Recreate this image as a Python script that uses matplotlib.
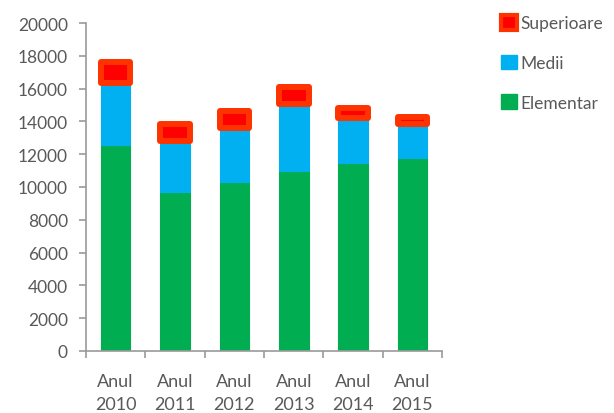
import numpy as np
import matplotlib
matplotlib.use('Agg')
import matplotlib.pyplot as plt
from matplotlib.patches import Patch

# data
years = ['Anul\n2010', 'Anul\n2011', 'Anul\n2012', 'Anul\n2013', 'Anul\n2014', 'Anul\n2015']
elementar = [12560, 9700, 10300, 10980, 11450, 11750]
medii = [3780, 3100, 3300, 4080, 2750, 2090]
superioare = [1280, 1040, 1030, 1040, 620, 430]

plt.rcParams['font.family'] = ['Lato', 'DejaVu Sans']
grey = '#595959'
axcol = '#9a9a9a'

fig = plt.figure(figsize=(6.14, 4.14), dpi=100)
ax = fig.add_axes([0.140, 0.150, 0.580, 0.792])

x = np.arange(len(years))
w = 0.5
b1 = ax.bar(x, elementar, w, color='#00AD50', edgecolor='#00AD50', linewidth=0.8)
b2 = ax.bar(x, medii, w, bottom=elementar, color='#00B0F0', edgecolor='#00B0F0',
            linewidth=0.8)
bot = np.array(elementar) + np.array(medii)
b3 = ax.bar(x, superioare, w, bottom=bot, color='#FF0000', edgecolor='#FF3300',
            linewidth=4.3)
for r in b3:
    r.set_joinstyle('round')

ax.set_xlim(-0.5, 5.5)
ax.set_ylim(0, 20000)
ax.set_yticks(range(0, 20001, 2000))
ax.set_xticks(x)
ax.set_xticklabels(years, linespacing=1.5)
ax.set_xticks(np.arange(-0.5, 6.0, 1.0), minor=True)
ax.tick_params(axis='x', which='major', length=0, pad=16, labelsize=13, colors=grey)
ax.tick_params(axis='x', which='minor', length=5, width=1.2, color=axcol, direction='out')
ax.tick_params(axis='y', length=5, width=1.2, color=axcol, labelsize=12.5,
               labelcolor=grey, pad=8)

for s in ['top', 'right']:
    ax.spines[s].set_visible(False)
for s in ['left', 'bottom']:
    ax.spines[s].set_color(axcol)
    ax.spines[s].set_linewidth(1.2)

handles = [Patch(facecolor='#FF0000', edgecolor='#FF3300', linewidth=3, joinstyle='round'),
           Patch(facecolor='#00B0F0', edgecolor='#00B0F0'),
           Patch(facecolor='#00AD50', edgecolor='#00AD50')]
fig.legend(handles, ['Superioare', 'Medii', 'Elementar'], loc='upper left',
           bbox_to_anchor=(0.79, 1.0), frameon=False, fontsize=12.5,
           labelcolor=grey, handlelength=0.95, handleheight=0.95,
           handletextpad=0.2, labelspacing=1.35)

plt.savefig('out.png', dpi=100)
